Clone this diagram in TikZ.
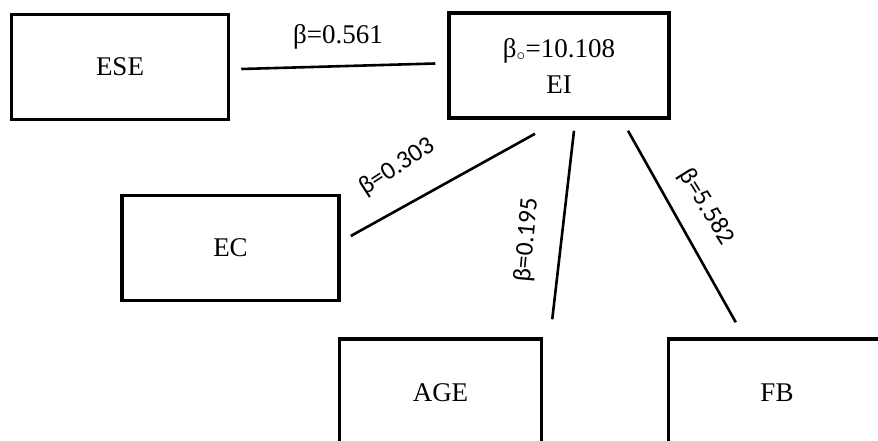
\documentclass[tikz,border=0pt]{standalone}
\usepackage{fontspec}
\setmainfont{Liberation Serif}
\newfontfamily\coeffont{Carlito}
\usetikzlibrary{calc}
\begin{document}
\begin{tikzpicture}[x=1pt,y=-1pt,
  box/.style={draw, line width=3.5pt, minimum width=217pt, minimum height=105pt,
    inner sep=0pt, align=center, font=\fontsize{27}{36}\selectfont},
  link/.style={line width=2.6pt},
  coef/.style={font=\coeffont\fontsize{25.5}{30}\selectfont, inner sep=0pt}]
\useasboundingbox (0,0) rectangle (878,441);
\clip (0,0) rectangle (878,441);
\fill[white] (0,0) rectangle (878,441);

% variable boxes
\node[box] (ESE) at (120,67) {ESE};
\node[box, minimum width=220pt] (EI) at (559,65.5) {β$_{\circ}$=10.108\\EI};
\node[box] (EC) at (230.5,248) {EC};
\node[box, minimum width=202pt, minimum height=108pt] (AGE) at (440.5,393) {AGE};
\node[box, minimum height=108pt] (FB) at (777,393) {FB};

% paths with their coefficients
\draw[link] ($(ESE.east)+(11,2)$) -- ($(EI.west)+(-12,-2)$);
\node[font=\fontsize{27}{30}\selectfont, inner sep=0pt] (bESE) at (338,37) {β=0.561};

\draw[link] ($(EC.east)+(10,-12)$) -- ($(EI.south)+(-24,14)$);
\node[coef, rotate=33] (bEC) at (397,167) {β=0.303};

\draw[link] ($(EI.south)+(15,11)$) -- ($(AGE.north east)+(9,-18)$);
\node[coef, rotate=85] (bAGE) at (527,240) {β=0.195};

\draw[link] ($(EI.south)+(69,11)$) -- ($(FB.north west)+(69,-15)$);
\node[coef, rotate=-58] (bFB) at (706,207) {β=5.582};
\end{tikzpicture}
\end{document}
